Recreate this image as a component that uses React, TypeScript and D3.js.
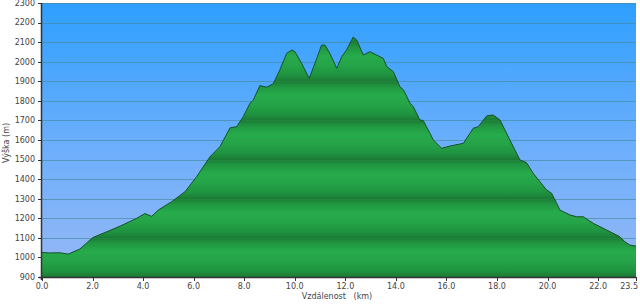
import React from "react";
import * as d3 from "d3";

const distKm = [0, 0.3, 0.7, 1.04, 1.5, 2.0, 2.56, 3.09, 3.75, 4.07, 4.34, 4.6, 5.13, 5.66, 6.12, 6.65, 7.04, 7.44, 7.7, 7.96, 8.23, 8.36, 8.62, 8.89, 9.15, 9.41, 9.68, 9.88, 10.0, 10.27, 10.57, 10.8, 11.06, 11.19, 11.39, 11.66, 11.86, 12.05, 12.31, 12.45, 12.71, 12.97, 13.24, 13.5, 13.64, 13.9, 14.16, 14.3, 14.56, 14.69, 14.95, 15.08, 15.35, 15.48, 15.81, 16.14, 16.67, 16.93, 17.06, 17.26, 17.59, 17.85, 18.12, 18.51, 18.91, 19.17, 19.43, 19.96, 20.16, 20.36, 20.49, 20.89, 21.15, 21.41, 21.81, 22.34, 22.86, 23.06, 23.26, 23.5];
const elevM = [1025, 1023, 1024, 1017, 1043, 1101, 1131, 1160, 1200, 1224, 1210, 1242, 1285, 1336, 1413, 1515, 1566, 1662, 1668, 1719, 1788, 1804, 1878, 1870, 1888, 1958, 2043, 2060, 2052, 1992, 1915, 1992, 2085, 2085, 2043, 1966, 2026, 2060, 2126, 2111, 2034, 2051, 2034, 2017, 1975, 1949, 1872, 1856, 1788, 1770, 1702, 1700, 1634, 1600, 1558, 1569, 1583, 1634, 1660, 1668, 1723, 1728, 1702, 1600, 1498, 1484, 1430, 1345, 1328, 1277, 1242, 1217, 1208, 1208, 1174, 1140, 1106, 1080, 1063, 1058];
const xTicks = [0, 2, 4, 6, 8, 10, 12, 14, 16, 18, 20, 22, 23.5];
const yTicks = [900, 1000, 1100, 1200, 1300, 1400, 1500, 1600, 1700, 1800, 1900, 2000, 2100, 2200, 2300];
const xTitle = "Vzdálenost   (km)";
const yTitle = "Výška (m)";

const W = 640, H = 304;
const L = 42, R = 636, T = 3, B = 277;

export default function App() {
  const x = d3.scaleLinear().domain([0, 23.5]).range([L, R]);
  const y = d3.scaleLinear().domain([900, 2300]).range([B, T]);
  const pts = distKm.map((d, i) => [d, elevM[i]] as [number, number]);
  const area = d3.area<[number, number]>().x(d => x(d[0])).y0(B).y1(d => y(d[1]))(pts) || "";
  const line = d3.line<[number, number]>().x(d => x(d[0])).y(d => y(d[1]))(pts) || "";
  const band0 = y(1300), band1 = y(1100);
  const font = "Verdana, 'DejaVu Sans', sans-serif";
  const lastX = xTicks[xTicks.length - 1];
  return (
    <svg width={W} height={H} style={{ position: "absolute", left: 0, top: 0, background: "#fff" }}>
      <defs>
        <linearGradient id="sky" x1="0" y1="0" x2="0" y2="1">
          <stop offset="0" stopColor="#2e9ffe" />
          <stop offset="0.5" stopColor="#6aaefc" />
          <stop offset="1" stopColor="#97b8f5" />
        </linearGradient>
        <linearGradient id="grn" gradientUnits="userSpaceOnUse" x1="0" x2="0" y1={band0} y2={band1} spreadMethod="repeat">
          <stop offset="0" stopColor="#1b7a35" />
          <stop offset="0.12" stopColor="#20943f" />
          <stop offset="0.35" stopColor="#26ab4b" />
          <stop offset="0.6" stopColor="#24a448" />
          <stop offset="0.85" stopColor="#1f923f" />
          <stop offset="1" stopColor="#1b7a35" />
        </linearGradient>
      </defs>
      <rect x={L} y={T} width={R - L} height={B - T} fill="url(#sky)" />
      {yTicks.slice(1).map(t => (
        <line key={"g" + t} x1={L} x2={R} y1={Math.round(y(t)) + 0.5} y2={Math.round(y(t)) + 0.5} stroke="#4a7fcc" strokeOpacity={0.55} />
      ))}
      <path d={area} fill="url(#grn)" />
      {yTicks.slice(1).map(t => (
        <line key={"o" + t} x1={L} x2={R} y1={Math.round(y(t)) + 0.5} y2={Math.round(y(t)) + 0.5} stroke="#3a9a55" strokeOpacity={0.25} />
      ))}
      <path d={line} fill="none" stroke="#17502a" strokeWidth={1} />
      <line x1={L - 0.5} x2={L - 0.5} y1={T} y2={B + 3} stroke="#333" strokeWidth={1.5} />
      <line x1={L - 3} x2={R} y1={B + 0.5} y2={B + 0.5} stroke="#333" strokeWidth={1.5} />
      {yTicks.map(t => (
        <g key={"y" + t}>
          <line x1={L - 4} x2={L} y1={Math.round(y(t)) + 0.5} y2={Math.round(y(t)) + 0.5} stroke="#333" />
          <text x={L - 7} y={y(t)} dy="0.35em" textAnchor="end" fontSize={8} fontFamily={font} fill="#444">{t}</text>
        </g>
      ))}
      {xTicks.map(t => (
        <g key={"x" + t}>
          <line x1={Math.round(x(t)) + 0.5} x2={Math.round(x(t)) + 0.5} y1={B} y2={B + 4} stroke="#333" />
          <text x={t === lastX ? x(t) + 2 : x(t)} y={B + 12} textAnchor={t === lastX ? "end" : "middle"} fontSize={8} fontFamily={font} fill="#444">{t.toFixed(1)}</text>
        </g>
      ))}
      <text x={337} y={299} textAnchor="middle" fontSize={8} fontFamily={font} fill="#444" style={{ whiteSpace: "pre" }} xmlSpace="preserve">{xTitle}</text>
      <text transform={`translate(9,143) rotate(-90)`} textAnchor="middle" fontSize={8} fontFamily={font} fill="#444">{yTitle}</text>
    </svg>
  );
}
